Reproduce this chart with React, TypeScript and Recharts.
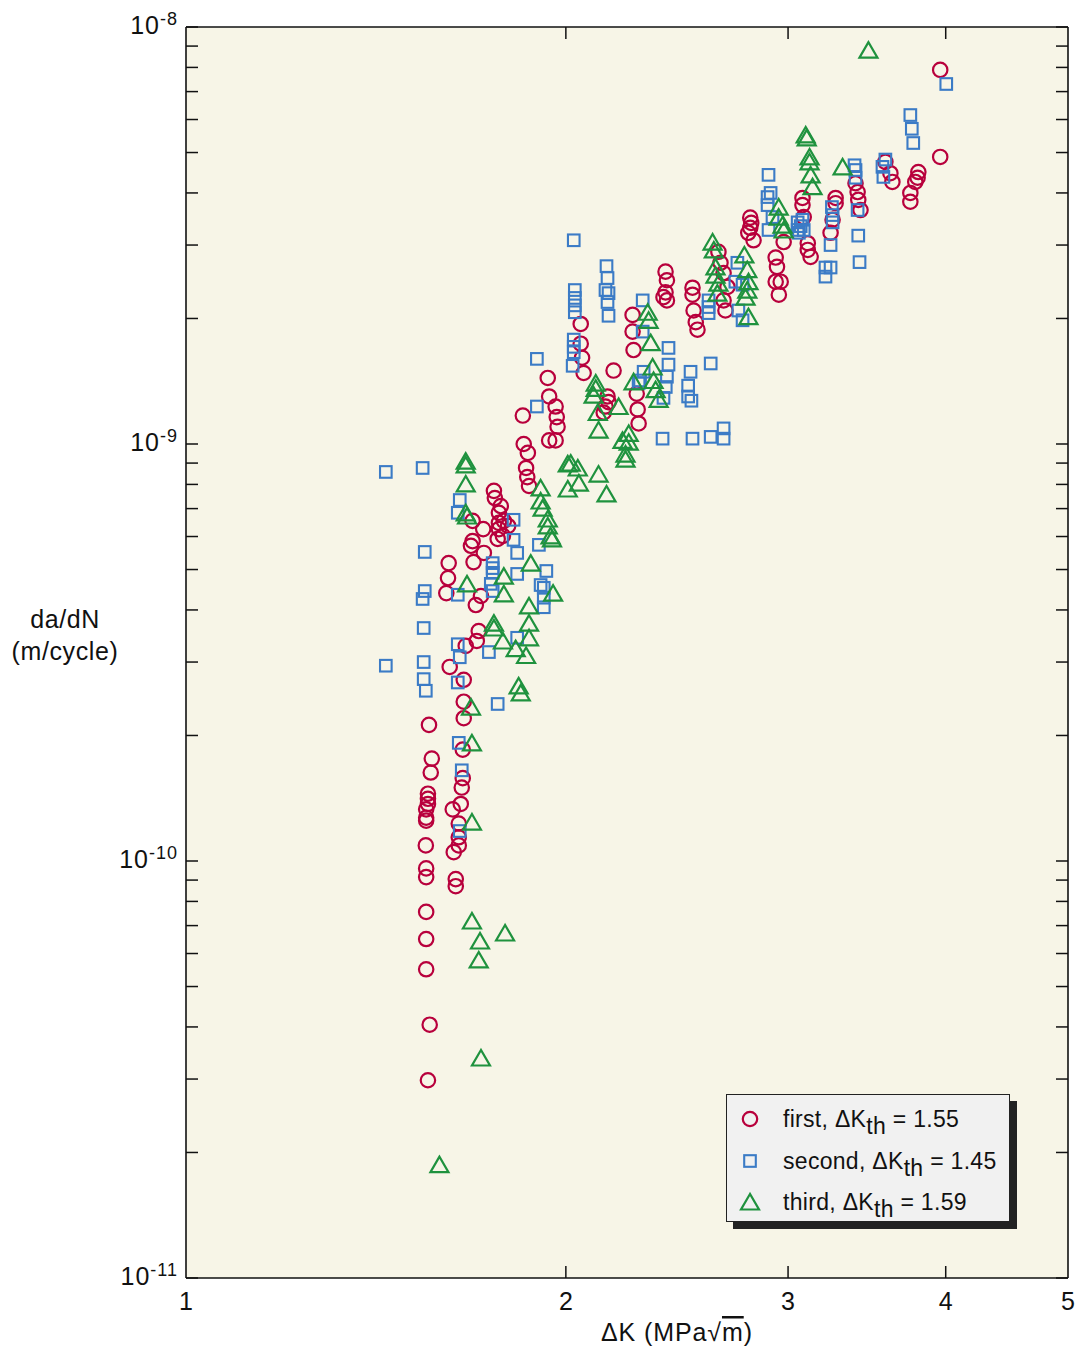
import React from 'react';
import { ScatterChart, Scatter, XAxis, YAxis, CartesianGrid } from 'recharts';

// [ΔK (MPa√m), da/dN (m/cycle)]
const first: [number, number][] = [
  [1.555, 2.98e-11], [1.56, 4.05e-11], [1.55, 5.5e-11], [1.55, 6.5e-11], [1.55, 7.55e-11],
  [1.55, 9.15e-11], [1.55, 9.6e-11], [1.549, 1.09e-10], [1.55, 1.25e-10], [1.55, 1.27e-10],
  [1.55, 1.33e-10], [1.555, 1.37e-10], [1.555, 1.41e-10], [1.555, 1.45e-10], [1.563, 1.63e-10],
  [1.566, 1.76e-10], [1.558, 2.12e-10], [1.636, 8.7e-11], [1.636, 9.05e-11], [1.63, 1.05e-10],
  [1.645, 1.09e-10], [1.645, 1.14e-10], [1.645, 1.23e-10], [1.627, 1.33e-10], [1.651, 1.37e-10],
  [1.654, 1.5e-10], [1.657, 1.58e-10], [1.657, 1.85e-10], [1.66, 2.2e-10], [1.66, 2.41e-10],
  [1.66, 2.72e-10], [1.618, 2.92e-10], [1.666, 3.28e-10], [1.7, 3.37e-10], [1.706, 3.56e-10],
  [1.697, 4.11e-10], [1.713, 4.32e-10], [1.608, 4.39e-10], [1.613, 4.77e-10], [1.615, 5.18e-10],
  [1.69, 5.21e-10], [1.722, 5.48e-10], [1.682, 5.7e-10], [1.687, 5.85e-10], [1.72, 6.25e-10],
  [1.687, 6.54e-10], [1.766, 5.92e-10], [1.783, 6.02e-10], [1.77, 6.25e-10], [1.8, 6.36e-10],
  [1.77, 6.47e-10], [1.786, 6.54e-10], [1.77, 6.84e-10], [1.776, 7.1e-10], [1.757, 7.42e-10],
  [1.754, 7.72e-10], [1.87, 7.93e-10], [1.864, 8.33e-10], [1.86, 8.76e-10], [1.866, 9.52e-10],
  [1.852, 1.0e-9], [1.849, 1.17e-9], [1.94, 1.02e-9], [1.963, 1.02e-9], [1.97, 1.1e-9],
  [1.967, 1.16e-9], [1.963, 1.23e-9], [1.94, 1.3e-9], [1.935, 1.44e-9], [2.066, 1.48e-9],
  [2.06, 1.61e-9], [2.055, 1.74e-9], [2.055, 1.94e-9], [2.182, 1.5e-9], [2.158, 1.3e-9],
  [2.162, 1.26e-9], [2.15, 1.23e-9], [2.143, 1.19e-9], [2.276, 1.32e-9], [2.28, 1.21e-9],
  [2.284, 1.12e-9], [2.259, 2.04e-9], [2.259, 1.86e-9], [2.263, 1.68e-9], [2.399, 2.59e-9],
  [2.405, 2.47e-9], [2.39, 2.25e-9], [2.405, 2.21e-9], [2.399, 2.31e-9], [2.52, 2.37e-9],
  [2.52, 2.28e-9], [2.525, 2.09e-9], [2.535, 1.96e-9], [2.543, 1.88e-9], [2.642, 2.89e-9],
  [2.652, 2.72e-9], [2.667, 2.57e-9], [2.686, 2.38e-9], [2.667, 2.21e-9], [2.676, 2.09e-9],
  [2.8, 3.49e-9], [2.805, 3.39e-9], [2.8, 3.3e-9], [2.79, 3.21e-9], [2.817, 3.08e-9],
  [2.933, 2.8e-9], [2.94, 2.66e-9], [2.933, 2.45e-9], [2.96, 2.45e-9], [2.95, 2.28e-9],
  [2.976, 3.05e-9], [3.08, 3.89e-9], [3.08, 3.74e-9], [3.087, 3.5e-9], [3.11, 3.03e-9],
  [3.11, 2.92e-9], [3.126, 2.81e-9], [3.272, 3.89e-9], [3.272, 3.78e-9], [3.254, 3.45e-9],
  [3.242, 3.21e-9], [3.393, 4.22e-9], [3.406, 4.02e-9], [3.41, 3.85e-9], [3.424, 3.64e-9],
  [3.583, 4.75e-9], [3.616, 4.46e-9], [3.629, 4.25e-9], [3.805, 4.49e-9], [3.8, 4.35e-9],
  [3.784, 4.25e-9], [3.75, 4.0e-9], [3.75, 3.81e-9], [3.96, 7.89e-9], [3.96, 4.88e-9],
];

const second: [number, number][] = [
  [1.44, 8.57e-10], [1.54, 8.76e-10], [1.44, 2.94e-10], [1.546, 5.51e-10], [1.546, 4.44e-10],
  [1.54, 4.25e-10], [1.543, 3.62e-10], [1.543, 3.0e-10], [1.543, 2.73e-10], [1.549, 2.56e-10],
  [1.648, 7.34e-10], [1.642, 6.84e-10], [1.642, 4.35e-10], [1.642, 3.31e-10], [1.648, 3.08e-10],
  [1.642, 2.68e-10], [1.645, 1.92e-10], [1.654, 1.65e-10], [1.648, 1.18e-10], [1.766, 2.38e-10],
  [1.75, 5.18e-10], [1.75, 5.04e-10], [1.75, 4.91e-10], [1.744, 4.62e-10], [1.75, 4.44e-10],
  [1.738, 3.17e-10], [1.818, 6.58e-10], [1.818, 5.89e-10], [1.83, 5.48e-10], [1.83, 4.88e-10],
  [1.83, 3.43e-10], [1.904, 5.73e-10], [1.93, 4.96e-10], [1.91, 4.59e-10], [1.921, 4.52e-10],
  [1.921, 4.28e-10], [1.921, 4.06e-10], [1.897, 1.6e-9], [1.897, 1.23e-9], [2.029, 3.08e-9],
  [2.033, 2.34e-9], [2.033, 2.24e-9], [2.033, 2.15e-9], [2.033, 2.07e-9], [2.029, 1.78e-9],
  [2.029, 1.71e-9], [2.029, 1.66e-9], [2.025, 1.54e-9], [2.154, 2.67e-9], [2.158, 2.5e-9],
  [2.15, 2.34e-9], [2.162, 2.3e-9], [2.158, 2.19e-9], [2.162, 2.03e-9], [2.301, 2.21e-9],
  [2.301, 1.86e-9], [2.305, 1.49e-9], [2.29, 1.42e-9], [2.284, 1.4e-9], [2.412, 1.7e-9],
  [2.412, 1.55e-9], [2.405, 1.45e-9], [2.4, 1.37e-9], [2.39, 1.29e-9], [2.386, 1.03e-9],
  [2.511, 1.49e-9], [2.5, 1.38e-9], [2.5, 1.3e-9], [2.515, 1.27e-9], [2.52, 1.03e-9],
  [2.605, 1.56e-9], [2.605, 1.04e-9], [2.667, 1.09e-9], [2.667, 1.03e-9], [2.595, 2.21e-9],
  [2.595, 2.13e-9], [2.595, 2.06e-9], [2.735, 2.72e-9], [2.725, 2.45e-9], [2.761, 2.41e-9],
  [2.74, 2.09e-9], [2.761, 1.98e-9], [2.895, 4.42e-9], [2.906, 4.0e-9], [2.89, 3.91e-9],
  [2.89, 3.74e-9], [2.916, 3.5e-9], [2.895, 3.26e-9], [3.053, 3.4e-9], [3.07, 3.33e-9],
  [3.053, 3.26e-9], [3.087, 3.26e-9], [3.06, 3.21e-9], [3.08, 3.45e-9], [3.25, 3.7e-9],
  [3.254, 3.54e-9], [3.254, 3.4e-9], [3.242, 3.0e-9], [3.212, 2.65e-9], [3.242, 2.65e-9],
  [3.212, 2.52e-9], [3.387, 4.66e-9], [3.393, 4.54e-9], [3.393, 4.35e-9], [3.406, 3.64e-9],
  [3.41, 3.16e-9], [3.418, 2.73e-9], [3.583, 4.81e-9], [3.564, 4.62e-9], [3.57, 4.37e-9],
  [3.75, 6.15e-9], [3.76, 5.7e-9], [3.77, 5.27e-9], [4.004, 7.3e-9],
];

const third: [number, number][] = [
  [1.588, 1.87e-11], [1.713, 3.37e-11], [1.706, 5.79e-11], [1.71, 6.43e-11], [1.685, 7.18e-11],
  [1.79, 6.72e-11], [1.685, 1.24e-10], [1.685, 1.92e-10], [1.682, 2.34e-10], [1.67, 4.62e-10],
  [1.666, 9.1e-10], [1.666, 8.91e-10], [1.666, 8.02e-10], [1.666, 6.84e-10], [1.67, 6.72e-10],
  [1.91, 7.85e-10], [1.91, 7.3e-10], [1.917, 7.02e-10], [1.935, 6.61e-10], [1.935, 6.36e-10],
  [1.945, 6.02e-10], [1.95, 5.92e-10], [1.876, 5.18e-10], [1.786, 4.82e-10], [1.786, 4.37e-10],
  [1.87, 4.09e-10], [1.87, 3.72e-10], [1.87, 3.43e-10], [1.954, 4.39e-10], [1.754, 3.72e-10],
  [1.754, 3.62e-10], [1.783, 3.37e-10], [1.825, 3.23e-10], [1.86, 3.11e-10], [1.835, 2.63e-10],
  [1.842, 2.53e-10], [2.007, 8.96e-10], [2.007, 7.8e-10], [2.018, 9.0e-10], [2.044, 8.76e-10],
  [2.048, 8.06e-10], [2.123, 8.47e-10], [2.154, 7.59e-10], [2.322, 2.07e-9], [2.326, 1.98e-9],
  [2.335, 1.75e-9], [2.343, 1.53e-9], [2.347, 1.42e-9], [2.356, 1.35e-9], [2.369, 1.28e-9],
  [2.263, 1.41e-9], [2.112, 1.4e-9], [2.112, 1.36e-9], [2.104, 1.31e-9], [2.12, 1.19e-9],
  [2.202, 1.23e-9], [2.123, 1.08e-9], [2.218, 1.02e-9], [2.243, 1.06e-9], [2.243, 1.01e-9],
  [2.23, 9.46e-10], [2.23, 9.2e-10], [2.614, 3.05e-9], [2.62, 2.92e-9], [2.628, 2.66e-9],
  [2.628, 2.54e-9], [2.642, 2.43e-9], [2.637, 2.3e-9], [2.77, 2.84e-9], [2.785, 2.62e-9],
  [2.791, 2.45e-9], [2.785, 2.34e-9], [2.776, 2.25e-9], [2.791, 2.02e-9], [2.949, 3.7e-9],
  [2.949, 3.5e-9], [2.97, 3.35e-9], [2.976, 3.26e-9], [3.098, 5.51e-9], [3.104, 5.42e-9],
  [3.12, 4.88e-9], [3.12, 4.75e-9], [3.126, 4.42e-9], [3.137, 4.14e-9], [3.314, 4.62e-9],
  [3.474, 8.8e-9],
];

const xTicks = [1, 2, 3, 4, 5];
const decades = [1e-11, 1e-10, 1e-9, 1e-8];
const yTicks = [
  1e-11, 2e-11, 3e-11, 4e-11, 5e-11, 6e-11, 7e-11, 8e-11, 9e-11,
  1e-10, 2e-10, 3e-10, 4e-10, 5e-10, 6e-10, 7e-10, 8e-10, 9e-10,
  1e-9, 2e-9, 3e-9, 4e-9, 5e-9, 6e-9, 7e-9, 8e-9, 9e-9,
  1e-8,
];

const RED = '#B8003C';
const BLUE = '#3B7BC6';
const GREEN = '#1F923E';
const INK = '#111';
const FONT = '"Liberation Sans", Arial, Helvetica, sans-serif';

const Circle = ({ cx, cy, color = RED }: any) => (
  <circle cx={cx} cy={cy} r={7.2} fill="none" stroke={color} strokeWidth={2.2} />
);
const Square = ({ cx, cy, color = BLUE }: any) => (
  <rect x={cx - 5.8} y={cy - 5.8} width={11.6} height={11.6} fill="none" stroke={color} strokeWidth={2.1} />
);
const Triangle = ({ cx, cy, color = GREEN }: any) => (
  <polygon
    points={`${cx},${cy - 8} ${cx - 9},${cy + 7.5} ${cx + 9},${cy + 7.5}`}
    fill="none"
    stroke={color}
    strokeWidth={2.2}
  />
);

const isDecade = (v: number) => decades.some((d) => Math.abs(v / d - 1) < 1e-6);

const LeftTick = ({ x, y, payload }: any) => {
  const v = payload.value;
  const exp = Math.round(Math.log10(v));
  return (
    <g>
      <line x1={x} x2={x + 12} y1={y} y2={y} stroke={INK} strokeWidth={1.5} />
      {isDecade(v) && (
        <text x={x - 8} y={y + 7} textAnchor="end" fontSize={25} letterSpacing={1} fill={INK} fontFamily={FONT}>
          <tspan>10</tspan>
          <tspan dy={-9} fontSize={18}>{exp}</tspan>
        </text>
      )}
    </g>
  );
};

const RightTick = ({ x, y }: any) => (
  <line x1={x - 12} x2={x} y1={y} y2={y} stroke={INK} strokeWidth={1.5} />
);

const BottomTick = ({ x, y, payload }: any) => {
  const v = payload.value;
  const inner = v > 1 && v < 5;
  return (
    <g>
      {inner && <line x1={x} x2={x} y1={y - 12} y2={y} stroke={INK} strokeWidth={1.5} />}
      <text x={x} y={y + 32} textAnchor="middle" fontSize={25} fill={INK} fontFamily={FONT}>
        {v}
      </text>
    </g>
  );
};

const TopTick = ({ x, y, payload }: any) => {
  const v = payload.value;
  if (v <= 1 || v >= 5) return <g />;
  return <line x1={x} x2={x} y1={y} y2={y + 12} stroke={INK} strokeWidth={1.5} />;
};

const YTitle = () => (
  <text textAnchor="middle" fontSize={25} letterSpacing={0.6} fill={INK} fontFamily={FONT}>
    <tspan x={65} y={628}>da/dN</tspan>
    <tspan x={65} y={660}>(m/cycle)</tspan>
  </text>
);

const XTitle = () => (
  <text x={601} y={1341} fontSize={25} letterSpacing={0.9} fill={INK} fontFamily={FONT}>
    <tspan>ΔK (MPa</tspan>
    <tspan>√</tspan>
    <tspan style={{ textDecoration: 'overline' }}>m</tspan>
    <tspan>)</tspan>
  </text>
);

const legendRows = [
  { label: 'first', dk: '1.55', Shape: Circle },
  { label: 'second', dk: '1.45', Shape: Square },
  { label: 'third', dk: '1.59', Shape: Triangle },
];

const LegendBox = () => (
  <div
    style={{
      position: 'absolute',
      left: 726,
      top: 1094,
      width: 282,
      height: 126,
      background: '#F1F1F1',
      border: '1.5px solid #222',
      boxShadow: '7px 7px 0 #222',
      fontFamily: FONT,
      fontSize: 23,
      letterSpacing: 0.3,
      color: INK,
    }}
  >
    {legendRows.map((r, i) => (
      <div key={r.label} style={{ position: 'absolute', left: 0, top: 11 + i * 41.5, height: 26, width: 280 }}>
        <svg width={30} height={26} style={{ position: 'absolute', left: 8, top: 0 }}>
          <r.Shape cx={15} cy={13} />
        </svg>
        <div style={{ position: 'absolute', left: 56, top: 0, lineHeight: '26px', whiteSpace: 'nowrap' }}>
          {r.label}, ΔK<span style={{ position: 'relative', top: 7 }}>th</span> = {r.dk}
        </div>
      </div>
    ))}
  </div>
);

const toPoints = (arr: [number, number][]) => arr.map(([x, y]) => ({ x, y }));

export default function App() {
  return (
    <div style={{ position: 'absolute', left: 0, top: 0, width: 1083, height: 1351, background: '#fff' }}>
      <ScatterChart width={1083} height={1351} margin={{ top: 26, right: 14, bottom: 13, left: 126 }}>
        <CartesianGrid horizontal={false} vertical={false} fill="#F7F5E7" stroke="none" />
        <XAxis
          xAxisId={0}
          dataKey="x"
          type="number"
          scale="log"
          domain={[1, 5]}
          ticks={xTicks}
          interval={0}
          allowDataOverflow
          height={60}
          tickSize={0}
          tickMargin={0}
          tickLine={false}
          axisLine={{ stroke: INK, strokeWidth: 1.6 }}
          tick={<BottomTick />}
          label={<XTitle />}
        />
        <XAxis
          xAxisId="top"
          orientation="top"
          dataKey="x"
          type="number"
          scale="log"
          domain={[1, 5]}
          ticks={xTicks}
          interval={0}
          allowDataOverflow
          height={1}
          tickSize={0}
          tickMargin={0}
          tickLine={false}
          axisLine={{ stroke: INK, strokeWidth: 1.6 }}
          tick={<TopTick />}
        />
        <YAxis
          yAxisId={0}
          dataKey="y"
          type="number"
          scale="log"
          domain={[1e-11, 1e-8]}
          ticks={yTicks}
          interval={0}
          allowDataOverflow
          width={60}
          tickSize={0}
          tickMargin={0}
          tickLine={false}
          axisLine={{ stroke: INK, strokeWidth: 1.6 }}
          tick={<LeftTick />}
          label={<YTitle />}
        />
        <YAxis
          yAxisId="right"
          orientation="right"
          dataKey="y"
          type="number"
          scale="log"
          domain={[1e-11, 1e-8]}
          ticks={yTicks}
          interval={0}
          allowDataOverflow
          width={1}
          tickSize={0}
          tickMargin={0}
          tickLine={false}
          axisLine={{ stroke: INK, strokeWidth: 1.6 }}
          tick={<RightTick />}
        />
        <Scatter name="first" data={toPoints(first)} shape={<Circle />} isAnimationActive={false} />
        <Scatter name="second" data={toPoints(second)} shape={<Square />} isAnimationActive={false} />
        <Scatter name="third" data={toPoints(third)} shape={<Triangle />} isAnimationActive={false} />
      </ScatterChart>
      <LegendBox />
    </div>
  );
}
